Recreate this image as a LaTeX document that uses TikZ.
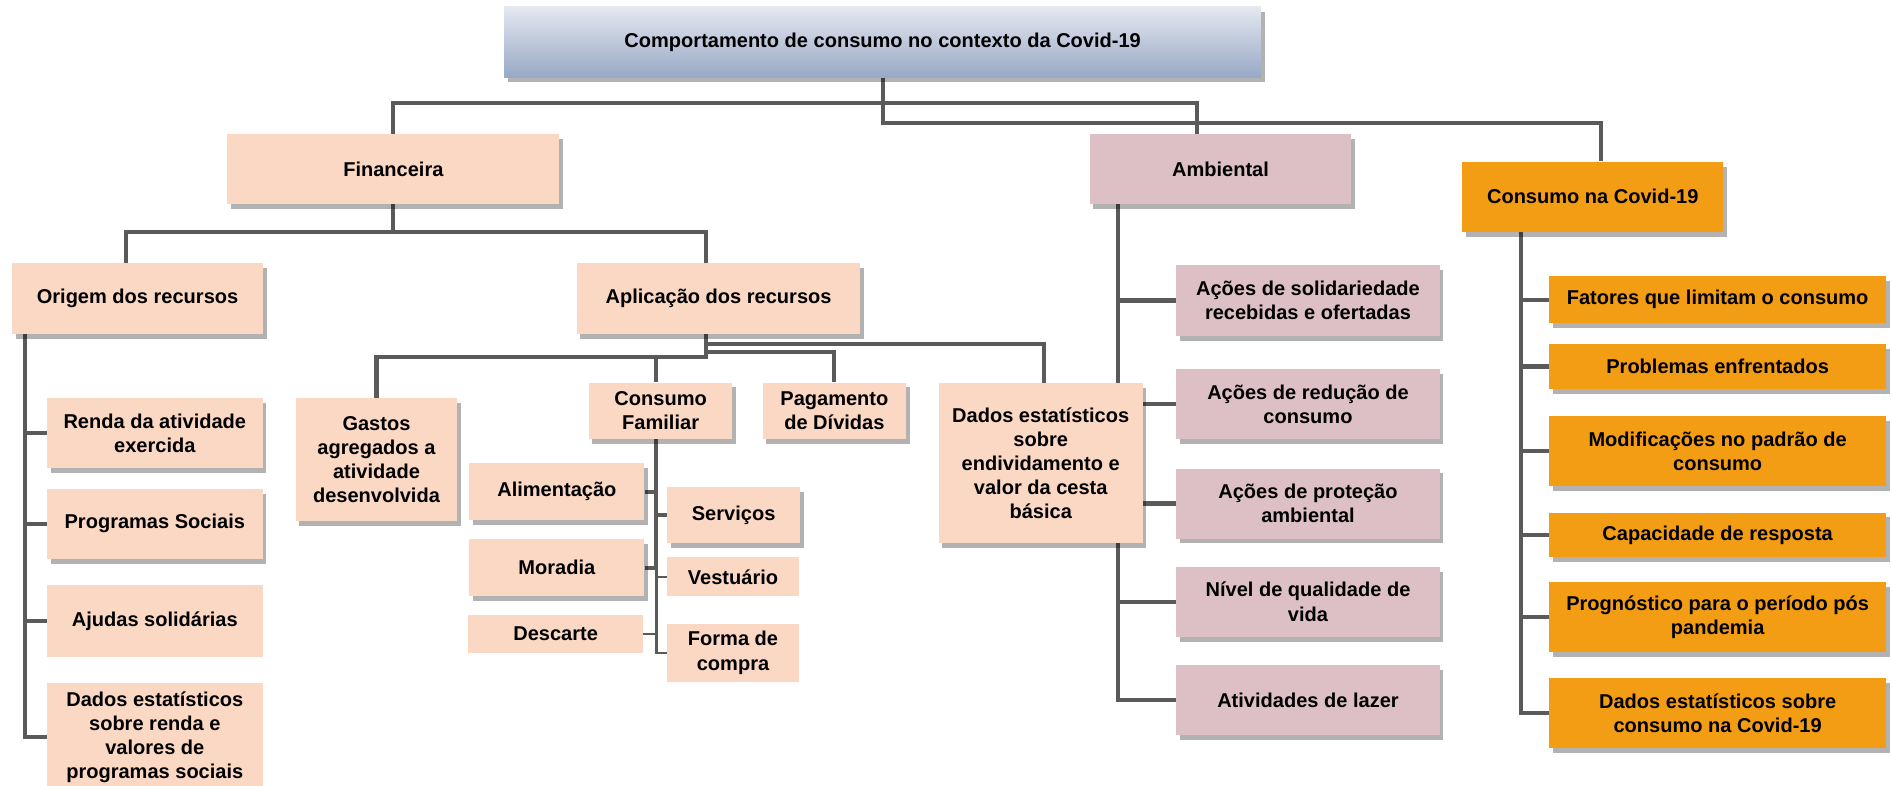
\documentclass[tikz,border=0pt]{standalone}
\usepackage{fontspec}
\setmainfont{Liberation Sans}
\usetikzlibrary{positioning, shadows, backgrounds}
\definecolor{peach}{RGB}{250,216,196}
\definecolor{mauve}{RGB}{221,191,198}
\definecolor{covorange}{RGB}{243,157,20}
\definecolor{roottop}{RGB}{228,232,240}
\definecolor{rootbottom}{RGB}{152,168,198}
\definecolor{linegray}{RGB}{90,90,90}

\tikzset{
  flatbox/.style={fill=peach, align=center, inner sep=2pt},
  shadowed/.style={drop shadow={shadow xshift=3pt, shadow yshift=-4pt, fill=black, opacity=.3}},
  peachbox/.style={flatbox, shadowed},
  mauvebox/.style={flatbox, fill=mauve, shadowed},
  orangebox/.style={flatbox, fill=covorange, shadowed},
  rootbox/.style={flatbox, top color=roottop, bottom color=rootbottom, shadowed},
  conn/.style={draw=linegray, line width=3.4pt},
  thinconn/.style={draw=linegray, line width=2pt},
}

\begin{document}
\begin{tikzpicture}[x=1pt, y=-1pt, font=\fontsize{16.6}{20}\selectfont\bfseries]
  \useasboundingbox (0,0) rectangle (1568,651);

  % top levels
  \node[rootbox, minimum width=627pt, minimum height=58.5pt] (root) at (731.5,35)
    {Comportamento de consumo no contexto da Covid-19};
  \node[peachbox, minimum width=275pt, minimum height=58pt] (fin) at (326,140) {Financeira};
  \node[mauvebox, minimum width=217pt, minimum height=58pt] (amb) at (1011.5,140) {Ambiental};
  \node[orangebox, minimum width=216pt, minimum height=58pt] (cov) at (1320,163) {Consumo na Covid-19};

  \node[peachbox, minimum width=208pt, minimum height=59pt] (ori) at (114,247.5) {Origem dos recursos};
  \node[peachbox, minimum width=235pt, minimum height=59pt] (apl) at (595.5,247.5) {Aplica\c{c}\~ao dos recursos};

  % origem dos recursos
  \node[peachbox, minimum width=178.6pt, minimum height=58pt] (renda) at (128.3,359)
    {Renda da atividade\\exercida};
  \node[peachbox, minimum width=178.6pt, minimum height=58pt, below=16.7pt of renda] (progsoc)
    {Programas Sociais};
  \node[flatbox, minimum width=178.6pt, minimum height=59.5pt, below=21.4pt of progsoc] (ajud)
    {Ajudas solid\'arias};
  \node[flatbox, minimum width=178.6pt, minimum height=90pt, below=21pt of ajud] (dren)
    {Dados estat\'isticos\\sobre renda e\\valores de\\programas sociais};

  % aplicacao dos recursos
  \node[peachbox, minimum width=134pt, minimum height=102pt] (gas) at (312,381)
    {Gastos\\agregados a\\atividade\\desenvolvida};
  \node[peachbox, minimum width=119pt, minimum height=47pt] (cfam) at (547.5,340.5) {Consumo\\Familiar};
  \node[peachbox, minimum width=119pt, minimum height=47pt] (pag) at (691.5,340.5) {Pagamento\\de D\'ividas};
  \node[peachbox, minimum width=169pt, minimum height=132.5pt] (dend) at (862.5,384)
    {Dados estat\'isticos\\sobre\\endividamento e\\valor da cesta\\b\'asica};
  \node[peachbox, minimum width=145pt, minimum height=47pt] (ali) at (461.5,407.5) {Alimenta\c{c}\~ao};
  \node[peachbox, minimum width=110pt, minimum height=46pt] (serv) at (608,427) {Servi\c{c}os};
  \node[peachbox, minimum width=145pt, minimum height=47pt] (mor) at (461.5,470.5) {Moradia};
  \node[flatbox, minimum width=109pt, minimum height=32pt] (vest) at (607.5,478) {Vestu\'ario};
  \node[flatbox, minimum width=145pt, minimum height=31pt] (desc) at (460.5,525.5) {Descarte};
  \node[flatbox, minimum width=109pt, minimum height=48pt] (forma) at (607.5,541) {Forma de\\compra};

  % ambiental
  \node[mauvebox, minimum width=218pt, minimum height=59pt] (sol) at (1084,249)
    {A\c{c}\~oes de solidariedade\\recebidas e ofertadas};
  \node[mauvebox, minimum width=218pt, minimum height=58pt, below=27pt of sol] (red)
    {A\c{c}\~oes de redu\c{c}\~ao de\\consumo};
  \node[mauvebox, minimum width=218pt, minimum height=58pt, below=24pt of red] (prot)
    {A\c{c}\~oes de prote\c{c}\~ao\\ambiental};
  \node[mauvebox, minimum width=218pt, minimum height=58pt, below=23pt of prot] (niv)
    {N\'ivel de qualidade de\\vida};
  \node[mauvebox, minimum width=218pt, minimum height=58pt, below=23pt of niv] (lazer)
    {Atividades de lazer};

  % consumo na covid
  \node[orangebox, minimum width=279pt, minimum height=38.6pt] (fat) at (1423.5,248.3)
    {Fatores que limitam o consumo};
  \node[orangebox, minimum width=279pt, minimum height=37.5pt, below=17pt of fat] (prob)
    {Problemas enfrentados};
  \node[orangebox, minimum width=279pt, minimum height=58pt, below=22pt of prob] (modif)
    {Modifica\c{c}\~oes no padr\~ao de\\consumo};
  \node[orangebox, minimum width=279pt, minimum height=37pt, below=21.5pt of modif] (capac)
    {Capacidade de resposta};
  \node[orangebox, minimum width=279pt, minimum height=58pt, below=20.5pt of capac] (progn)
    {Progn\'ostico para o per\'iodo p\'os\\pandemia};
  \node[orangebox, minimum width=279pt, minimum height=58pt, below=21pt of progn] (dcov)
    {Dados estat\'isticos sobre\\consumo na Covid-19};

  \begin{scope}[on background layer]
    % first level
    \draw[conn] (root.south) |- ([yshift=25.4pt]fin.north) -- (fin.north);
    \draw[conn] (root.south) |- ([xshift=-19.5pt, yshift=25.4pt]amb.north) -- ([xshift=-19.5pt]amb.north);
    \draw[conn] (root.south) |- ([xshift=7pt, yshift=31.8pt]cov.north) -- ([xshift=7pt]cov.north);
    % financeira
    \draw[conn] (fin.south) |- ([xshift=-9.5pt, yshift=25.5pt]ori.north) -- ([xshift=-9.5pt]ori.north);
    \draw[conn] (fin.south) |- ([xshift=-10.5pt, yshift=25.5pt]apl.north) -- ([xshift=-10.5pt]apl.north);
    \foreach \c in {renda, progsoc, ajud, dren}
      \draw[conn] ([xshift=11pt]ori.south west) |- (\c.west);
    % aplicacao
    \coordinate (aplx) at ([xshift=-10.5pt]apl.south);
    \draw[conn] (aplx) |- ([xshift=2.5pt, yshift=32.7pt]dend.north) -- ([xshift=2.5pt]dend.north);
    \draw[conn] (aplx) |- ([yshift=25pt]pag.north) -- (pag.north);
    \draw[conn] (aplx) |- ([yshift=34pt]gas.north) -- (gas.north);
    \draw[conn] ([xshift=-3.5pt, yshift=21pt]cfam.north) -- ([xshift=-3.5pt]cfam.north);
    % consumo familiar
    \coordinate (cfx) at ([xshift=-3.5pt]cfam.south);
    \draw[conn] (cfx) |- (ali.east);
    \draw[conn] (cfx) |- (serv.west);
    \draw[conn] (cfx) |- (mor.east);
    \draw[thinconn] (cfx |- mor.east) |- (forma.west);
    \draw[thinconn] (cfx |- vest.west) -- (vest.west);
    \draw[thinconn] (cfx |- desc.east) -- (desc.east);
    % ambiental
    \coordinate (ambx) at ([xshift=24pt]amb.south west);
    \foreach \c in {sol, red, prot, niv, lazer}
      \draw[conn] (ambx) |- (\c.west);
    % consumo na covid
    \coordinate (covx) at ([xshift=49pt]cov.south west);
    \foreach \c in {fat, prob, modif, capac, progn, dcov}
      \draw[conn] (covx) |- (\c.west);
  \end{scope}
\end{tikzpicture}
\end{document}
